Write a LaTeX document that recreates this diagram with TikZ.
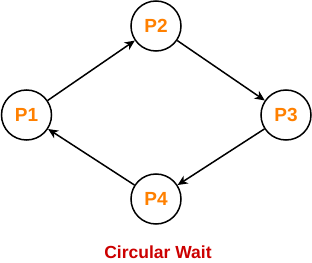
\documentclass[tikz,border=0pt]{standalone}
\usepackage{fontspec}
\setmainfont{Liberation Sans}
\usetikzlibrary{arrows.meta}
\definecolor{porange}{HTML}{FF8000}
\definecolor{cred}{HTML}{CC0000}
\begin{document}
\begin{tikzpicture}[x=1bp,y=1bp,
  proc/.style={circle,draw=black,line width=1.5bp,minimum size=50bp,inner sep=0pt,
    text=porange,font=\fontsize{19bp}{21bp}\selectfont\bfseries},
  conn/.style={line width=1.5bp,-{Stealth[length=10bp,width=9bp,inset=3bp]}}]
\useasboundingbox (0,0) rectangle (312,263);
\node[proc] (p1) at (26.5,148) {P1};
\node[proc] (p2) at (156,237) {P2};
\node[proc] (p3) at (286,148) {P3};
\node[proc] (p4) at (156,64) {P4};
\node[text=cred,font=\fontsize{17.5bp}{19bp}\selectfont\bfseries] (cap) at (158,11) {Circular Wait};
\draw[conn] (p1) -- (p2);
\draw[conn] (p2) -- (p3);
\draw[conn] (p3) -- (p4);
\draw[conn] (p4) -- (p1);
\end{tikzpicture}
\end{document}
